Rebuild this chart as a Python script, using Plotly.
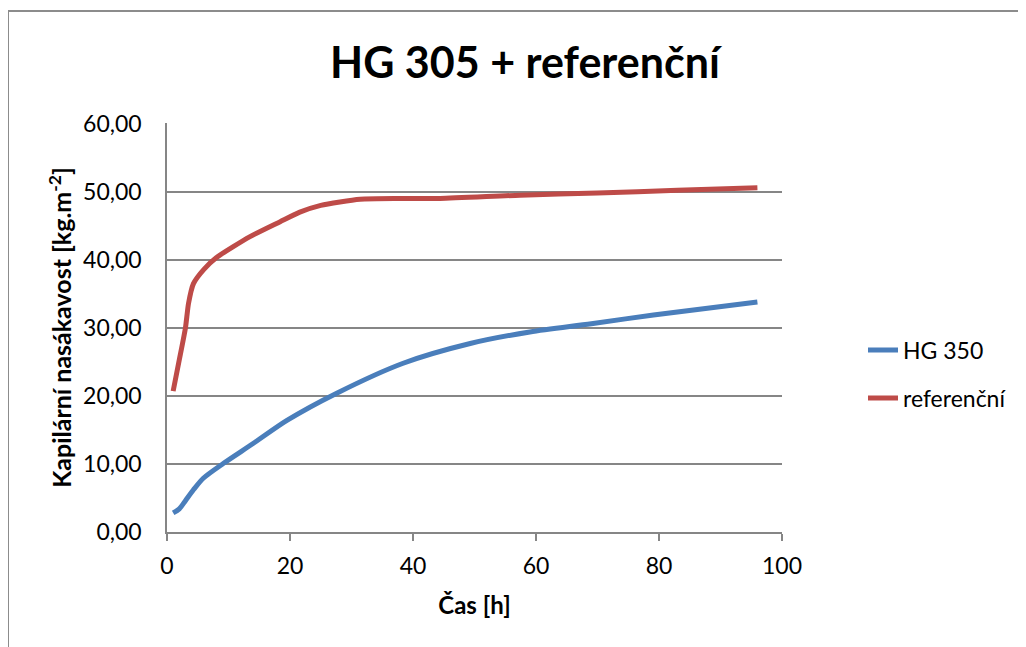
import plotly.graph_objects as go

# Data
hg_time = [1, 2, 3, 4.3, 5.9, 9.2, 14, 19.5, 27.6, 38.4, 49.3, 59, 69, 79.1, 96]
hg_values = [2.8, 3.4, 4.6, 6.2, 7.9, 10.1, 13.0, 16.4, 20.4, 24.8, 27.7, 29.4, 30.6, 31.9, 33.8]

ref_time = [1, 2, 3, 3.5, 4.3, 6, 8, 13.5, 18.4, 21.6, 25, 31.4, 38, 44.4, 57.4, 70, 83, 96]
ref_values = [20.7, 25.3, 30.0, 33.6, 36.5, 38.6, 40.3, 43.4, 45.6, 47.0, 48.0, 48.9, 49.0, 49.0, 49.5, 49.8, 50.2, 50.6]

series_names = ["HG 350", "referenční"]
title_text = "HG 305 + referenční"
x_title = "Čas [h]"
y_title = "Kapilární nasákavost [kg.m<sup>-2</sup>]"
x_ticks = [0, 20, 40, 60, 80, 100]
y_ticks = [0, 10, 20, 30, 40, 50, 60]

FONT = "Lato"
GRID = "#868686"

# page body has an 8px margin, so figure coords = screen coords - 8
L, T, PW, PH = 159, 115, 615, 409
W, H = 1026, 647

fig = go.Figure()
fig.add_trace(go.Scatter(
    x=hg_time, y=hg_values, name=series_names[0], mode="lines",
    line=dict(color="#4A7EBB", width=5, shape="spline", smoothing=0.8),
    legendgroup="a",
))
fig.add_trace(go.Scatter(
    x=ref_time, y=ref_values, name=series_names[1], mode="lines",
    line=dict(color="#BE4B48", width=5, shape="spline", smoothing=0.6),
    legendgroup="b",
))

fig.update_layout(
    width=W, height=H,
    margin=dict(l=L, r=W - L - PW, t=T, b=H - T - PH),
    paper_bgcolor="white", plot_bgcolor="white",
    separators=", ",
    font=dict(family=FONT, size=23, color="black"),
    title=dict(text=f"<b>{title_text}</b>", x=517/W, xanchor="center",
               y=1-55/H, yanchor="middle", xref="container", yref="container",
               font=dict(family=FONT, size=43, color="black")),
    showlegend=True,
    legend=dict(x=(855-L)/PW, xanchor="left", y=0.386, yanchor="middle",
                font=dict(family=FONT, size=23, color="black"),
                tracegroupgap=15, bgcolor="rgba(0,0,0,0)"),
    shapes=[dict(type="rect", xref="paper", yref="paper",
                 x0=(0-L)/PW, x1=1.6, y0=-0.6, y1=(T+PH-3)/PH,
                 line=dict(color="#8C8C8C", width=2), fillcolor="rgba(0,0,0,0)",
                 layer="below")],
)

fig.update_xaxes(
    range=[0, 100], tickvals=x_ticks, ticktext=[str(v) for v in x_ticks],
    showgrid=False, zeroline=False,
    showline=True, linecolor=GRID, linewidth=1.5,
    ticks="outside", ticklen=7, tickcolor=GRID, tickwidth=1.5,
    ticklabelstandoff=6,
    tickfont=dict(family=FONT, size=23, color="black"),
    title=dict(text=f"<b>{x_title}</b>", font=dict(family=FONT, size=24, color="black"), standoff=19),
)
fig.update_yaxes(
    range=[0, 60.1], tickvals=y_ticks, tickformat=".2f",
    showgrid=True, gridcolor=GRID, gridwidth=1.5, zeroline=False,
    showline=True, linecolor=GRID, linewidth=1.5,
    ticks="", ticklabelstandoff=19,
    tickfont=dict(family=FONT, size=23, color="black"),
    title=dict(text=f"<b>{y_title}</b>", font=dict(family=FONT, size=25, color="black"), standoff=4),
)

fig.write_html("out.html")
